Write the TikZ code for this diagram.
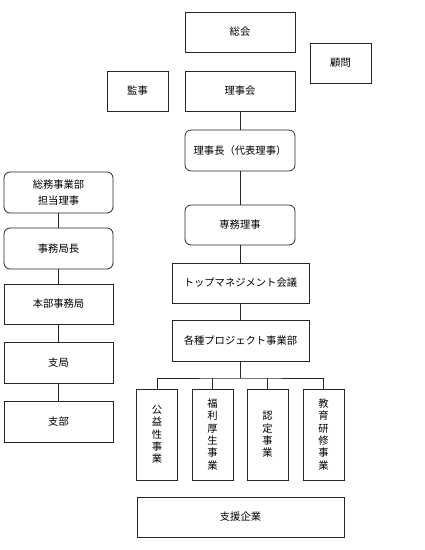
\documentclass[tikz,border=0pt]{standalone}
\usepackage{fontspec}
\newfontfamily\jp{Noto Sans CJK JP}
\begin{document}
\begin{tikzpicture}[x=1pt,y=-1pt,
  box/.style={draw=black!85, line width=0.8pt, inner sep=0pt, align=center,
    font=\jp\fontsize{10.3}{15.5}\selectfont},
  rbox/.style={box, rounded corners=6pt},
  vbox/.style={box, minimum width=41pt, minimum height=91pt,
    font=\jp\fontsize{10.3}{12.3}\selectfont},
  conn/.style={draw=black!85, line width=0.8pt}]
\useasboundingbox (0,0) rectangle (425,550);
% main column
\node[box, minimum width=110pt, minimum height=40pt] (soukai) at (240,32) {総会};
\node[box, minimum width=61pt, minimum height=40pt] (komon) at (340.5,63) {顧問};
\node[box, minimum width=61pt, minimum height=40pt] (kanji) at (137.5,91) {監事};
\node[box, minimum width=110pt, minimum height=40pt] (rijikai) at (240,91) {理事会};
\node[rbox, minimum width=110pt, minimum height=41pt] (rijicho) at (240,150.5) {理事長（代表理事）};
\node[rbox, minimum width=110pt, minimum height=40pt] (senmu) at (240,225) {専務理事};
\node[box, minimum width=137pt, minimum height=40pt] (top) at (240.5,283) {トップマネジメント会議};
\node[box, minimum width=137pt, minimum height=41pt] (proj) at (240.5,340.5) {各種プロジェクト事業部};
% four projects
\node[vbox] (k1) at (157,434.5) {公\\益\\性\\事\\業};
\node[vbox] (k2) at (212.5,434.5) {福\\利\\厚\\生\\事\\業};
\node[vbox] (k3) at (267.5,434.5) {認\\定\\事\\業};
\node[vbox] (k4) at (323.5,434.5) {教\\育\\研\\修\\事\\業};
\node[box, minimum width=207pt, minimum height=40pt] (shien) at (240.5,517) {支援企業};
% left column
\node[rbox, minimum width=109pt, minimum height=41pt] (soumu) at (58.5,192.5) {総務事業部\\担当理事};
\node[rbox, minimum width=109pt, minimum height=41pt] (jimukyokucho) at (58.5,248.5) {事務局長};
\node[box, minimum width=109pt, minimum height=40pt] (honbu) at (58.5,304) {本部事務局};
\node[box, minimum width=109pt, minimum height=41pt] (shikyoku) at (58.5,362.5) {支局};
\node[box, minimum width=109pt, minimum height=41pt] (shibu) at (58.5,421.5) {支部};
% connectors
\draw[conn] (rijikai) -- (rijicho);
\draw[conn] (rijicho) -- (senmu);
\draw[conn] (senmu) -- (senmu |- top.north);
\draw[conn] (top.south -| proj.north) -- (proj);
\coordinate (bus) at (240.5,378);
\draw[conn] (proj.south) -- (bus);
\draw[conn] (k1.north) |- (bus) -| (k4.north);
\draw[conn] (k2.north) -- (k2.north |- bus);
\draw[conn] (k3.north) -- (k3.north |- bus);
\draw[conn] (soumu) -- (jimukyokucho);
\draw[conn] (jimukyokucho) -- (honbu);
\draw[conn] (honbu) -- (shikyoku);
\draw[conn] (shikyoku) -- (shibu);
\end{tikzpicture}
\end{document}
